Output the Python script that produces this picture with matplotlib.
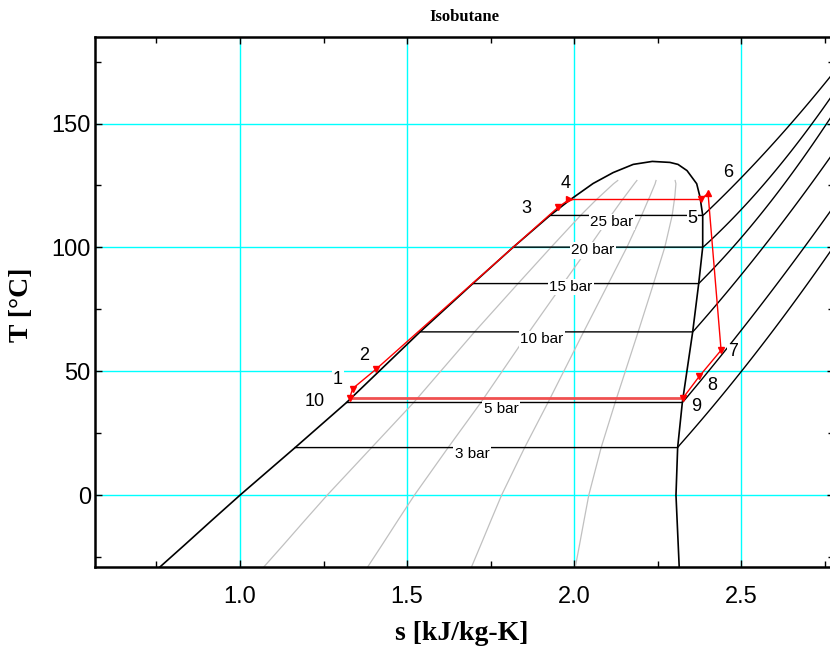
import numpy as np
import matplotlib
matplotlib.use('Agg')
import matplotlib.pyplot as plt
from matplotlib.ticker import MultipleLocator

# ---------------- data ----------------
# saturated liquid line (T [C], s [kJ/kg-K])
liq_T = [-30.0, -20.0, -10.0, 0.0, 19.2, 37.4, 65.9, 85.4, 100.1, 112.9, 119.4, 125.8, 130.2, 133.5, 134.7]
liq_s = [0.752, 0.835, 0.917, 1.000, 1.165, 1.319, 1.539, 1.697, 1.818, 1.928, 1.990, 2.057, 2.117, 2.177, 2.234]
# saturated vapour line
vap_T = [134.7, 134.3, 133.5, 131.0, 125.7, 120.3, 112.9, 100.1, 85.4, 65.9, 37.4, 19.2, 0.0, -30.0]
vap_s = [2.234, 2.287, 2.311, 2.338, 2.367, 2.377, 2.385, 2.385, 2.373, 2.355, 2.324, 2.310, 2.305, 2.315]

# constant quality lines
quality_levels = [0.2, 0.4, 0.6, 0.8]
quality_T_min = -30.0
quality_T_max = 127.0

# isobars
isobar_labels = ['3 bar', '5 bar', '10 bar', '15 bar', '20 bar', '25 bar']
isobar_Tsat = [19.2, 37.4, 65.9, 85.4, 100.1, 112.9]
isobar_sliq = [1.165, 1.319, 1.539, 1.697, 1.818, 1.928]
sh3_s = [2.310, 2.400, 2.500, 2.600, 2.700, 2.780]
sh3_T = [19.2, 33.5, 50.0, 67.0, 85.5, 101.0]
sh5_s = [2.324, 2.400, 2.500, 2.600, 2.686, 2.780]
sh5_T = [37.4, 49.5, 66.5, 84.0, 99.5, 117.0]
sh10_s = [2.355, 2.450, 2.557, 2.680, 2.780]
sh10_T = [65.9, 80.5, 98.8, 120.0, 139.0]
sh15_s = [2.373, 2.467, 2.600, 2.757, 2.780]
sh15_T = [85.4, 98.8, 120.5, 150.0, 155.0]
sh20_s = [2.385, 2.500, 2.710, 2.780]
sh20_T = [100.1, 114.9, 150.0, 162.5]
sh25_s = [2.385, 2.500, 2.647, 2.780]
sh25_T = [112.9, 127.7, 150.0, 171.0]
isobar_sh_s = [sh3_s, sh5_s, sh10_s, sh15_s, sh20_s, sh25_s]
isobar_sh_T = [sh3_T, sh5_T, sh10_T, sh15_T, sh20_T, sh25_T]
isobar_label_s = [1.695, 1.781, 1.903, 1.991, 2.057, 2.113]
isobar_label_T = [16.5, 34.7, 62.9, 84.0, 98.8, 110.2]

# cycle state points
cyc_labels = ['1', '2', '3', '4', '5', '6', '7', '8', '9', '10']
cyc_s = [1.337, 1.407, 1.953, 1.986, 2.379, 2.401, 2.440, 2.375, 2.327, 1.329]
cyc_T = [43.0, 50.8, 116.3, 119.4, 119.4, 121.8, 58.5, 48.0, 39.4, 39.4]
cyc_markers = ['v', 'v', 'v', '>', 'v', '^', 'v', 'v', 'v', 'v']
cyc_label_s = [1.293, 1.371, 1.856, 1.976, 2.354, 2.462, 2.475, 2.415, 2.365, 1.225]
cyc_label_T = [46.6, 56.5, 115.6, 125.7, 111.6, 130.4, 57.8, 44.4, 35.6, 37.6]

x_major = [1.0, 1.5, 2.0, 2.5]
y_major = [0, 50, 100, 150]

# ---------------- figure ----------------
W, H = 830, 648
fig = plt.figure(figsize=(W / 100, H / 100), dpi=100)
left_px, right_px, top_px, bot_px = 95, 834, 36.8, 567.0
ax = fig.add_axes([left_px / W, 1 - bot_px / H, (right_px - left_px) / W, (bot_px - top_px) / H])
ax.set_xlim(0.566, 2.778)
ax.set_ylim(-29, 185)

ax.set_xticks(x_major)
ax.set_yticks(y_major)
ax.xaxis.set_minor_locator(MultipleLocator(0.25))
ax.yaxis.set_minor_locator(MultipleLocator(25))
ax.grid(True, which='major', color='#00ffff', lw=1.0, zorder=0)
ax.set_axisbelow(True)
ax.tick_params(which='both', direction='in', top=True, right=True, width=1, colors='black')
ax.tick_params(which='major', length=5)
ax.tick_params(which='minor', length=4)
ax.tick_params(axis='x', which='major', pad=14, labelsize=17)
ax.tick_params(axis='y', which='major', pad=3, labelsize=17)
for lab in ax.get_xticklabels() + ax.get_yticklabels():
    lab.set_fontfamily('Liberation Sans')
ax.xaxis.set_major_formatter(matplotlib.ticker.FuncFormatter(lambda v, p: f'{v:.1f}'))
ax.yaxis.set_major_formatter(matplotlib.ticker.FuncFormatter(lambda v, p: f'{v:.0f}'))
for sp in ax.spines.values():
    sp.set_linewidth(1.8)

# quality lines
Tq = np.linspace(quality_T_min, quality_T_max, 120)
sl_q = np.interp(Tq, liq_T, liq_s)
sv_q = np.interp(Tq, vap_T[::-1], vap_s[::-1])
for q in quality_levels:
    ax.plot(sl_q + q * (sv_q - sl_q), Tq, color='#c0c0c0', lw=0.9, zorder=1)

# dome
ax.plot(liq_s + vap_s, liq_T + vap_T, color='black', lw=1.2, zorder=2)

# isobars (two-phase part straight, superheated part smoothed through read points)
for lab, Ts, sl, ss, TT, ls, lT in zip(isobar_labels, isobar_Tsat, isobar_sliq,
                                          isobar_sh_s, isobar_sh_T, isobar_label_s, isobar_label_T):
    coef = np.polyfit(ss, TT, 2)
    sd = np.linspace(ss[0], ss[-1], 80)
    Td = np.polyval(coef, sd)
    Td[0] = TT[0]
    ax.plot(np.r_[sl, sd], np.r_[Ts, Td], color='black', lw=1.0, zorder=2)
    ax.text(ls, lT, lab, ha='center', va='center', fontsize=11, family='Liberation Sans',
            bbox=dict(facecolor='white', edgecolor='none', pad=1.0), zorder=3)

# cycle
n = len(cyc_s)
for i in range(n):
    j = (i + 1) % n
    if cyc_labels[i] == '9':
        ax.plot([cyc_s[i], cyc_s[j]], [cyc_T[i], cyc_T[j]], color='#f05050', lw=2.0, zorder=4)
    else:
        ax.plot([cyc_s[i], cyc_s[j]], [cyc_T[i], cyc_T[j]], color='red', lw=1.0, zorder=4)
for s, T, m in zip(cyc_s, cyc_T, cyc_markers):
    ax.plot([s], [T], marker=m, color='red', markersize=5, zorder=5, linestyle='none')
for lab, s, T in zip(cyc_labels, cyc_label_s, cyc_label_T):
    ax.text(s, T, lab, ha='center', va='center', fontsize=13, family='Liberation Sans',
            bbox=dict(facecolor='white', edgecolor='none', pad=0.5), zorder=6)

# titles / axis labels
fig.text(464 / W, 1 - 17 / H, 'Isobutane', ha='center', va='center', fontsize=12,
         family='Liberation Serif', fontweight='bold')
fig.text(462 / W, 1 - 633 / H, 's [kJ/kg-K]', ha='center', va='center', fontsize=20,
         family='Liberation Serif', fontweight='bold')
fig.text(22 / W, 1 - 305 / H, 'T [°C]', ha='center', va='center', fontsize=20,
         family='Liberation Serif', fontweight='bold', rotation=90)

fig.savefig('out.png', dpi=100)
